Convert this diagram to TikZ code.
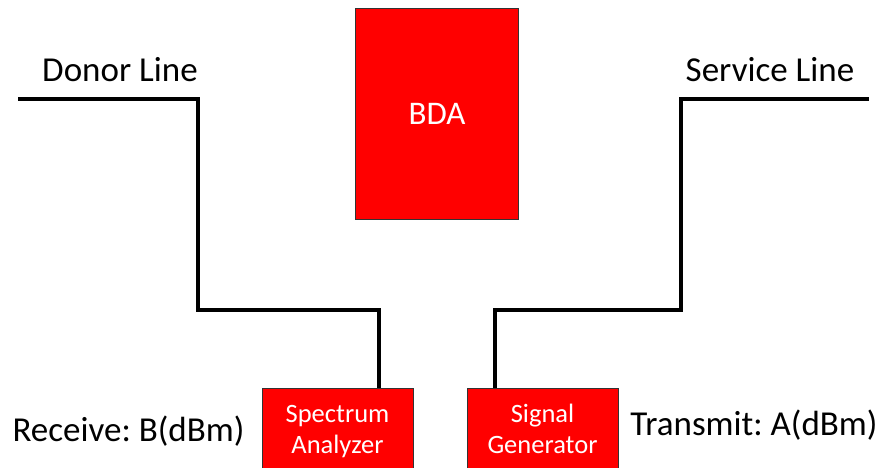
\documentclass[tikz,border=0pt]{standalone}
\usepackage{fontspec}
\setmainfont{Carlito}
\frenchspacing
\begin{document}
\begin{tikzpicture}[x=1pt,y=-1pt,
  redbox/.style={draw=black!80, line width=1pt, fill=red, inner sep=0pt},
  wire/.style={draw=black, line width=3.4pt, line join=miter},
  label/.style={font=\fontsize{35}{40}\selectfont, inner sep=0pt, anchor=base},
  boxtext/.style={font=\fontsize{26.5}{31}\selectfont, text=white, inner sep=0pt, anchor=base, align=center}]
  \useasboundingbox (0,0) rectangle (880,468);
  \clip (0,0) rectangle (880,468);

  % amplifier in the middle
  \node[redbox, minimum width=163pt, minimum height=211pt, anchor=north west] (bda) at (355,8) {};
  \node[font=\fontsize{33}{40}\selectfont, text=white, inner sep=0pt] (bdatext) at (bda.center) {BDA};

  % test instruments at the bottom edge
  \node[redbox, minimum width=151pt, minimum height=100pt, anchor=north west] (sa) at (262,388) {};
  \node[boxtext] (satext) at (337.5,453) {Spectrum\\Analyzer};
  \node[redbox, minimum width=151pt, minimum height=100pt, anchor=north west] (sg) at (467,388) {};
  \node[boxtext] (sgtext) at (542.5,453) {Signal\\Generator};

  % line labels
  \node[label] (donor) at (120,82) {Donor Line};
  \node[label] (service) at (770,82) {Service Line};
  \node[label] (rx) at (128.5,441) {Receive: B(dBm)};
  \node[label] (tx) at (754,435) {Transmit: A(dBm)};

  % cable runs
  \coordinate (donorend) at (18,99);
  \coordinate (serviceend) at (869,99);
  \coordinate (sain) at (379,388);
  \coordinate (sgout) at (495,388);
  \draw[wire] (donorend) -- (198,99) -- (198,310) -- (379,310) -- (sain);
  \draw[wire] (serviceend) -- (681,99) -- (681,310) -- (495,310) -- (sgout);
\end{tikzpicture}
\end{document}
